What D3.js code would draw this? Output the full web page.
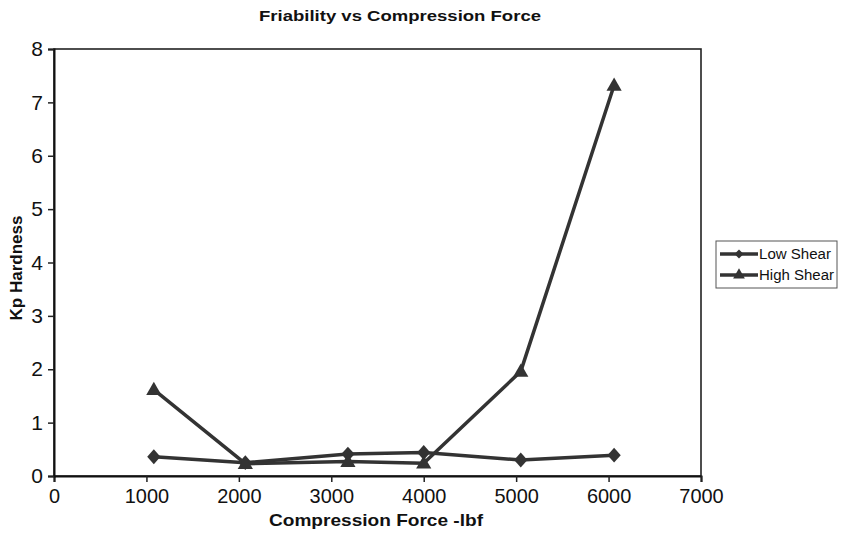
<!DOCTYPE html>
<html><head><meta charset="utf-8">
<script src="https://cdn.jsdelivr.net/npm/d3@7"></script>
<style>body{margin:0;background:#fff}svg{display:block}text{font-family:"Liberation Sans",Arial,sans-serif}</style>
</head><body><div id="chart"></div>
<script>
const forces = [1080, 2070, 3180, 4000, 5050, 6060];
const lowShear = [0.36, 0.25, 0.41, 0.44, 0.30, 0.39];
const highShear = [1.62, 0.23, 0.27, 0.24, 1.96, 7.32];
const seriesNames = ["Low Shear", "High Shear"];
const xTicks = [0, 1000, 2000, 3000, 4000, 5000, 6000, 7000];
const yTicks = [0, 1, 2, 3, 4, 5, 6, 7, 8];

const W = 841, H = 541;
const m = {l: 54, r: 701, t: 49, b: 476};
const svg = d3.select("#chart").append("svg").attr("width", W).attr("height", H);
const x = d3.scaleLinear().domain([0, 7000]).range([m.l, m.r]);
const y = d3.scaleLinear().domain([0, 8]).range([m.b, m.t]);
const ink = "#333";

// frame
svg.append("rect").attr("x", m.l).attr("y", m.t).attr("width", m.r - m.l).attr("height", m.b - m.t)
  .attr("fill", "none").attr("stroke", "#222").attr("stroke-width", 1.6);

const xa = svg.append("g").attr("transform", `translate(0,${m.b})`)
  .call(d3.axisBottom(x).tickValues(xTicks).tickSize(6).tickPadding(6).tickFormat(d3.format("d")));
const ya = svg.append("g").attr("transform", `translate(${m.l},0)`)
  .call(d3.axisLeft(y).tickValues(yTicks).tickSize(6).tickPadding(5).tickFormat(d3.format("d")));
[xa, ya].forEach(a => {
  a.select(".domain").attr("stroke", "#111").attr("stroke-width", 2);
  a.selectAll(".tick line").attr("stroke", "#222").attr("stroke-width", 1.5);
  a.selectAll(".tick text").attr("font-size", 21).attr("fill", "#111")
   .attr("font-family", "'Liberation Sans',Arial,sans-serif");
});
xa.selectAll(".tick text").attr("transform", "scale(0.95,1)");

const data = [lowShear, highShear].map(vals => vals.map((v, i) => ({x: forces[i], y: v})));
const line = d3.line().x(d => x(d.x)).y(d => y(d.y));
const sq = d3.symbol().type(d3.symbolSquare).size(88);
const tri = d3.symbol().type(d3.symbolTriangle).size(100);

data.forEach((s, k) => {
  svg.append("path").datum(s).attr("d", line).attr("fill", "none")
    .attr("stroke", ink).attr("stroke-width", 3.5).attr("stroke-linejoin", "round");
  svg.selectAll(null).data(s).enter().append("path")
    .attr("d", k === 0 ? sq : tri)
    .attr("transform", d => k === 0
      ? `translate(${x(d.x)},${y(d.y)}) scale(1,1.12) rotate(45)`
      : `translate(${x(d.x)},${y(d.y) + 1})`)
    .attr("fill", ink);
});

// titles
svg.append("text").attr("x", 400).attr("y", 21).attr("text-anchor", "middle")
  .attr("font-size", 15).attr("font-weight", "bold").attr("fill", "#111")
  .attr("textLength", 282).attr("lengthAdjust", "spacingAndGlyphs")
  .text("Friability vs Compression Force");
svg.append("text").attr("x", 376).attr("y", 526).attr("text-anchor", "middle")
  .attr("font-size", 17).attr("font-weight", "bold").attr("fill", "#111")
  .attr("textLength", 214).attr("lengthAdjust", "spacingAndGlyphs")
  .text("Compression Force -lbf");
svg.append("text").attr("transform", "translate(22,268) rotate(-90)").attr("text-anchor", "middle")
  .attr("font-size", 17).attr("font-weight", "bold").attr("fill", "#111")
  .attr("textLength", 105).attr("lengthAdjust", "spacingAndGlyphs")
  .text("Kp Hardness");

// legend
const lg = svg.append("g");
lg.append("rect").attr("x", 716).attr("y", 241).attr("width", 121).attr("height", 47)
  .attr("fill", "#fff").attr("stroke", "#555").attr("stroke-width", 1);
seriesNames.forEach((n, k) => {
  const yy = 254 + k * 21;
  lg.append("line").attr("x1", 720).attr("x2", 758).attr("y1", yy).attr("y2", yy)
    .attr("stroke", ink).attr("stroke-width", 3.5);
  lg.append("path").attr("d", k === 0 ? d3.symbol().type(d3.symbolSquare).size(40)() : d3.symbol().type(d3.symbolTriangle).size(60)())
    .attr("transform", k === 0 ? `translate(739,${yy}) rotate(45)` : `translate(739,${yy})`).attr("fill", ink);
  lg.append("text").attr("x", 759).attr("y", yy + 5).attr("font-size", 14).attr("fill", "#111")
    .attr("textLength", k === 0 ? 72 : 75).attr("lengthAdjust", "spacingAndGlyphs").text(n);
});
</script></body></html>
